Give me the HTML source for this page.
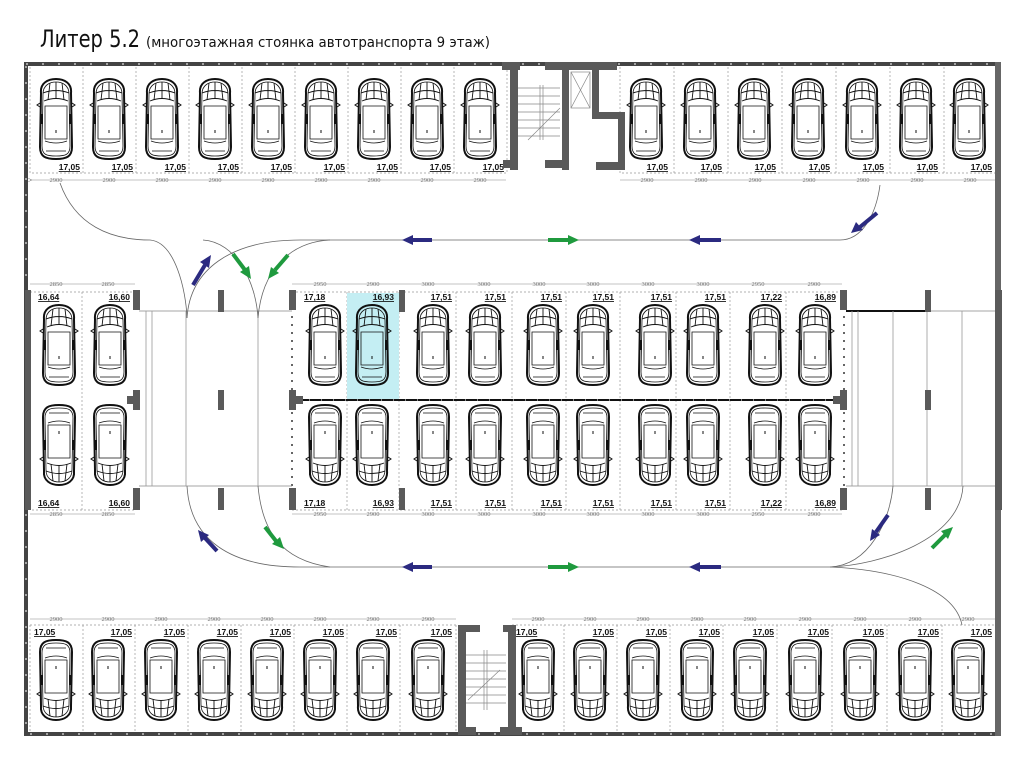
<!DOCTYPE html>
<html><head><meta charset="utf-8"><style>
html,body{margin:0;padding:0;background:#fff}
svg{display:block}
.lb{font-family:"Liberation Sans",sans-serif;font-size:8.5px;font-weight:bold;text-decoration:underline;fill:#111}
.dm{font-family:"Liberation Serif",serif;font-size:6.5px;fill:#777}
</style></head><body>
<svg width="1024" height="759" viewBox="0 0 1024 759" xmlns="http://www.w3.org/2000/svg">
<defs>
<g id="car" fill="none" stroke="#111">
<path d="M-15 14 C-16 4 -8 0 0 0 C8 0 16 4 15 14 L16 68 C16 78 10 80 0 80 C-10 80 -16 78 -16 68 Z" stroke-width="2"/>
<path d="M-13 15 C-13 6 -6 3 0 3 C6 3 13 6 13 15 L14 67 C14 76 9 77 0 77 C-9 77 -14 76 -14 67 Z" stroke-width="0.8"/>
<path d="M-12 22 Q0 17 12 22 M-6 4 L-8 21 M0 3 L0 19 M6 4 L8 21 M-13 14 Q0 9 13 14" stroke-width="0.9"/>
<path d="M-11 27 L11 27 L11 60 L-11 60 Z" stroke-width="0.8"/>
<path d="M-11 62 Q0 66 11 62 M-10 72 L10 72" stroke-width="0.8"/>
<path d="M-16 24 L-19 26 L-16 28 M16 24 L19 26 L16 28" stroke-width="1"/>
<rect x="-15" y="35" width="2" height="10" fill="#111" stroke="none"/>
<rect x="13" y="35" width="2" height="10" fill="#111" stroke="none"/>
<path d="M0 51 L0 54" stroke-width="1"/>
</g>
<g id="carD"><use href="#car" transform="translate(0,80) scale(1,-1)"/></g>
<marker id="ah" markerWidth="6" markerHeight="6" refX="3" refY="3" orient="auto"><path d="M0 0 L6 3 L0 6" fill="none" stroke="#777" stroke-width="0.8"/></marker>
</defs>

<text x="40" y="47" font-family="'DejaVu Sans','Liberation Sans',sans-serif" font-size="24" textLength="100" lengthAdjust="spacingAndGlyphs" fill="#111">Литер 5.2</text>
<text x="146" y="47" font-family="'DejaVu Sans','Liberation Sans',sans-serif" font-size="14" textLength="344" lengthAdjust="spacingAndGlyphs" fill="#111">(многоэтажная стоянка автотранспорта 9 этаж)</text>

<!-- frame -->
<rect x="26" y="64" width="972" height="670" fill="none" stroke="#444" stroke-width="4"/>
<rect x="26" y="64" width="972" height="670" fill="none" stroke="#fff" stroke-width="1" stroke-dasharray="2 14"/>
<rect x="995" y="62" width="6" height="674" fill="#666"/>

<!-- top row slots -->
<g fill="none" stroke="#999" stroke-width="0.7" stroke-dasharray="2 2">
<path d="M30 67 V173 H507 V67 M83 67V173 M136 67V173 M189 67V173 M242 67V173 M295 67V173 M348 67V173 M401 67V173 M454 67V173"/>
<path d="M620 67 V173 H995 M674 67V173 M728 67V173 M782 67V173 M836 67V173 M890 67V173 M944 67V173"/>
<path d="M30 625 V733 M30 625 H456 M83 625V733 M135 625V733 M188 625V733 M241 625V733 M294 625V733 M347 625V733 M400 625V733 M456 625V733"/>
<path d="M512 625 H995 M512 625V733 M564 625V733 M617 625V733 M670 625V733 M723 625V733 M777 625V733 M832 625V733 M887 625V733 M942 625V733"/>
<path d="M30 292 V510 H135 M30 292 H135 M82 292 V510"/>
<path d="M292 292 H842 M292 510 H842 M347 292V510 M399 292V510 M456 292V510 M512 292V510 M566 292V510 M620 292V510 M676 292V510 M730 292V510 M786 292V510"/>
</g>
<rect x="347" y="293" width="52" height="107" fill="#c4eef3"/>

<g>
<use href="#car" x="56" y="79"/><use href="#car" x="109" y="79"/><use href="#car" x="162" y="79"/><use href="#car" x="215" y="79"/><use href="#car" x="268" y="79"/><use href="#car" x="321" y="79"/><use href="#car" x="374" y="79"/><use href="#car" x="427" y="79"/><use href="#car" x="480" y="79"/>
<use href="#car" x="646" y="79"/><use href="#car" x="700" y="79"/><use href="#car" x="754" y="79"/><use href="#car" x="808" y="79"/><use href="#car" x="862" y="79"/><use href="#car" x="916" y="79"/><use href="#car" x="969" y="79"/>
<use href="#car" x="59" y="305"/><use href="#car" x="110" y="305"/>
<use href="#carD" x="59" y="405"/><use href="#carD" x="110" y="405"/>
<use href="#car" x="325" y="305"/><use href="#car" x="372" y="305"/><use href="#car" x="433" y="305"/><use href="#car" x="485" y="305"/><use href="#car" x="543" y="305"/><use href="#car" x="593" y="305"/><use href="#car" x="655" y="305"/><use href="#car" x="703" y="305"/><use href="#car" x="765" y="305"/><use href="#car" x="815" y="305"/>
<use href="#carD" x="325" y="405"/><use href="#carD" x="372" y="405"/><use href="#carD" x="433" y="405"/><use href="#carD" x="485" y="405"/><use href="#carD" x="543" y="405"/><use href="#carD" x="593" y="405"/><use href="#carD" x="655" y="405"/><use href="#carD" x="703" y="405"/><use href="#carD" x="765" y="405"/><use href="#carD" x="815" y="405"/>
<use href="#carD" x="56" y="640"/><use href="#carD" x="108" y="640"/><use href="#carD" x="161" y="640"/><use href="#carD" x="214" y="640"/><use href="#carD" x="267" y="640"/><use href="#carD" x="320" y="640"/><use href="#carD" x="373" y="640"/><use href="#carD" x="428" y="640"/>
<use href="#carD" x="538" y="640"/><use href="#carD" x="590" y="640"/><use href="#carD" x="643" y="640"/><use href="#carD" x="697" y="640"/><use href="#carD" x="750" y="640"/><use href="#carD" x="805" y="640"/><use href="#carD" x="860" y="640"/><use href="#carD" x="915" y="640"/><use href="#carD" x="968" y="640"/>
</g>

<!-- labels -->
<g class="lb" text-anchor="end">
<text x="80" y="170">17,05</text><text x="133" y="170">17,05</text><text x="186" y="170">17,05</text><text x="239" y="170">17,05</text><text x="292" y="170">17,05</text><text x="345" y="170">17,05</text><text x="398" y="170">17,05</text><text x="451" y="170">17,05</text><text x="504" y="170">17,05</text>
<text x="668" y="170">17,05</text><text x="722" y="170">17,05</text><text x="776" y="170">17,05</text><text x="830" y="170">17,05</text><text x="884" y="170">17,05</text><text x="938" y="170">17,05</text><text x="992" y="170">17,05</text>
<text x="130" y="300">16,60</text><text x="130" y="506">16,60</text>
<text x="394" y="300">16,93</text><text x="452" y="300">17,51</text><text x="506" y="300">17,51</text><text x="562" y="300">17,51</text><text x="614" y="300">17,51</text><text x="672" y="300">17,51</text><text x="726" y="300">17,51</text><text x="782" y="300">17,22</text><text x="836" y="300">16,89</text>
<text x="394" y="506">16,93</text><text x="452" y="506">17,51</text><text x="506" y="506">17,51</text><text x="562" y="506">17,51</text><text x="614" y="506">17,51</text><text x="672" y="506">17,51</text><text x="726" y="506">17,51</text><text x="782" y="506">17,22</text><text x="836" y="506">16,89</text>
<text x="132" y="635">17,05</text><text x="185" y="635">17,05</text><text x="238" y="635">17,05</text><text x="291" y="635">17,05</text><text x="344" y="635">17,05</text><text x="397" y="635">17,05</text><text x="452" y="635">17,05</text>
<text x="614" y="635">17,05</text><text x="667" y="635">17,05</text><text x="720" y="635">17,05</text><text x="774" y="635">17,05</text><text x="829" y="635">17,05</text><text x="884" y="635">17,05</text><text x="939" y="635">17,05</text><text x="992" y="635">17,05</text>
</g>
<g class="lb">
<text x="34" y="635">17,05</text><text x="516" y="635">17,05</text>
<text x="38" y="300">16,64</text><text x="38" y="506">16,64</text>
<text x="304" y="300">17,18</text><text x="304" y="506">17,18</text>
</g>

<!-- dimension lines -->
<g stroke="#888" stroke-width="0.6" marker-start="url(#ah)">
<path d="M30 180 H506 M620 180 H995 M30 284 H135 M30 514 H135 M292 284 H842 M292 514 H842 M30 619 H456 M512 619 H995"/>
</g>
<g class="dm" text-anchor="middle">
<text x="56" y="182">2900</text><text x="109" y="182">2900</text><text x="162" y="182">2900</text><text x="215" y="182">2900</text><text x="268" y="182">2900</text><text x="321" y="182">2900</text><text x="374" y="182">2900</text><text x="427" y="182">2900</text><text x="480" y="182">2900</text>
<text x="647" y="182">2900</text><text x="701" y="182">2900</text><text x="755" y="182">2900</text><text x="809" y="182">2900</text><text x="863" y="182">2900</text><text x="917" y="182">2900</text><text x="970" y="182">2900</text>
<text x="56" y="286">2850</text><text x="108" y="286">2850</text><text x="56" y="516">2850</text><text x="108" y="516">2850</text>
<text x="320" y="286">2950</text><text x="373" y="286">2900</text><text x="428" y="286">3000</text><text x="484" y="286">3000</text><text x="539" y="286">3000</text><text x="593" y="286">3000</text><text x="648" y="286">3000</text><text x="703" y="286">3000</text><text x="758" y="286">2950</text><text x="814" y="286">2900</text>
<text x="320" y="516">2950</text><text x="373" y="516">2900</text><text x="428" y="516">3000</text><text x="484" y="516">3000</text><text x="539" y="516">3000</text><text x="593" y="516">3000</text><text x="648" y="516">3000</text><text x="703" y="516">3000</text><text x="758" y="516">2950</text><text x="814" y="516">2900</text>
<text x="56" y="621">2900</text><text x="108" y="621">2900</text><text x="161" y="621">2900</text><text x="214" y="621">2900</text><text x="267" y="621">2900</text><text x="320" y="621">2900</text><text x="373" y="621">2900</text><text x="428" y="621">2900</text>
<text x="538" y="621">2900</text><text x="590" y="621">2900</text><text x="643" y="621">2900</text><text x="697" y="621">2900</text><text x="750" y="621">2900</text><text x="805" y="621">2900</text><text x="860" y="621">2900</text><text x="915" y="621">2900</text><text x="968" y="621">2900</text>
</g>

<!-- center dividing line and walls -->
<path d="M297 400 H842" stroke="#111" stroke-width="2"/>
<path d="M297 400 H842" stroke="#fff" stroke-width="1" stroke-dasharray="1 11"/>
<path d="M292 300 V500 M844 300 V500" stroke="#333" stroke-width="1.5" stroke-dasharray="2 6"/>
<path d="M139 311 H292 M139 486 H292 M846 311 H996 M846 486 H996 M846 311 H996" stroke="#888" stroke-width="0.8"/>
<path d="M846 311 H926" stroke="#111" stroke-width="2"/>
<path d="M146 311 V486 M152 311 V486 M186 311 V486 M258 311 V486 M852 311 V486 M858 311 V486 M893 311 V486 M927 311 V486 M962 311 V486" stroke="#999" stroke-width="0.8"/>
<g fill="#5a5a5a">
<rect x="25" y="290" width="6" height="220"/>
<rect x="133" y="290" width="7" height="20"/><rect x="127" y="396" width="13" height="8"/><rect x="133" y="390" width="7" height="20"/><rect x="133" y="488" width="7" height="22"/>
<rect x="218" y="290" width="6" height="22"/><rect x="218" y="390" width="6" height="20"/><rect x="218" y="488" width="6" height="22"/>
<rect x="289" y="290" width="7" height="20"/><rect x="289" y="390" width="7" height="20"/><rect x="289" y="396" width="14" height="8"/><rect x="289" y="488" width="7" height="22"/>
<rect x="399" y="290" width="6" height="22"/><rect x="399" y="488" width="6" height="22"/>
<rect x="840" y="290" width="7" height="20"/><rect x="840" y="390" width="7" height="20"/><rect x="833" y="396" width="14" height="8"/><rect x="840" y="488" width="7" height="22"/>
<rect x="925" y="290" width="6" height="22"/><rect x="925" y="390" width="6" height="20"/><rect x="925" y="488" width="6" height="22"/>
<rect x="995" y="290" width="7" height="220"/>
<!-- top stairs -->
<rect x="502" y="62" width="18" height="8"/><rect x="510" y="62" width="8" height="108"/><rect x="503" y="160" width="15" height="8"/>
<rect x="545" y="62" width="72" height="8"/><rect x="562" y="62" width="7" height="108"/><rect x="545" y="160" width="22" height="8"/>
<rect x="592" y="62" width="7" height="56"/><rect x="592" y="112" width="33" height="7"/><rect x="618" y="112" width="7" height="58"/><rect x="596" y="162" width="29" height="8"/>
<!-- bottom stairs -->
<rect x="458" y="625" width="22" height="7"/><rect x="458" y="625" width="8" height="110"/><rect x="458" y="727" width="18" height="8"/>
<rect x="503" y="625" width="13" height="7"/><rect x="508" y="625" width="8" height="110"/><rect x="500" y="727" width="22" height="8"/>
</g>
<g stroke="#888" stroke-width="0.7" fill="none">
<path d="M518 88 H560 M518 96 H560 M518 104 H560 M518 112 H560 M518 120 H560 M518 128 H560 M518 136 H560 M540 85 V140 M543 85 V140 M528 140 L560 108"/>
<rect x="571" y="72" width="19" height="36"/><path d="M571 72 L590 108 M590 72 L571 108"/>
<path d="M466 655 H506 M466 663 H506 M466 671 H506 M466 679 H506 M466 687 H506 M466 695 H506 M466 703 H506 M484 650 V710 M487 650 V710 M468 700 L500 670"/>
</g>

<!-- lanes -->
<g fill="none" stroke="#666" stroke-width="0.8">
<path d="M60 183 C75 225 110 240 150 240 C175 242 186 290 187 318"/>
<path d="M187 318 C190 270 230 240 300 240 L840 240 C862 240 876 215 880 185"/>
<path d="M203 240 C236 242 256 282 258 318"/>
<path d="M258 318 C262 270 290 242 330 240"/>
<path d="M187 486 C190 540 230 567 300 567 L830 567 C870 565 890 520 893 486"/>
<path d="M258 486 C262 530 280 560 330 567"/>
<path d="M830 567 C880 565 960 540 963 486"/>
<path d="M830 567 C900 570 955 590 962 625"/>
</g>

<!-- arrows -->
<g stroke-width="4" stroke-linecap="butt">
<g stroke="#2b2a80" fill="#2b2a80">
<path d="M432 240 H412"/><path d="M402 240 L413 235 L413 245 Z" stroke="none"/>
<path d="M721 240 H699"/><path d="M689 240 L700 235 L700 245 Z" stroke="none"/>
<path d="M432 567 H412"/><path d="M402 567 L413 562 L413 572 Z" stroke="none"/>
<path d="M721 567 H699"/><path d="M689 567 L700 562 L700 572 Z" stroke="none"/>
</g>
<g stroke="#1f9a3e" fill="#1f9a3e">
<path d="M548 240 H568"/><path d="M579 240 L568 235 L568 245 Z" stroke="none"/>
<path d="M548 567 H568"/><path d="M579 567 L568 562 L568 572 Z" stroke="none"/>
</g>
<path d="M193 285 L205 265" stroke="#2b2a80"/><path d="M211 255 L200 262 L209 268 Z" fill="#2b2a80"/>
<path d="M233 254 L245 270" stroke="#1f9a3e"/><path d="M251 279 L240 272 L249 266 Z" fill="#1f9a3e"/>
<path d="M288 255 L275 270" stroke="#1f9a3e"/><path d="M268 279 L271 267 L279 273 Z" fill="#1f9a3e"/>
<path d="M877 213 L860 227" stroke="#2b2a80"/><path d="M851 233 L856 222 L863 230 Z" fill="#2b2a80"/>
<path d="M217 551 L205 538" stroke="#2b2a80"/><path d="M198 530 L201 542 L209 535 Z" fill="#2b2a80"/>
<path d="M265 527 L276 541" stroke="#1f9a3e"/><path d="M284 549 L272 544 L280 537 Z" fill="#1f9a3e"/>
<path d="M888 515 L876 532" stroke="#2b2a80"/><path d="M870 541 L872 529 L880 535 Z" fill="#2b2a80"/>
<path d="M932 548 L945 535" stroke="#1f9a3e"/><path d="M953 527 L941 531 L948 539 Z" fill="#1f9a3e"/>
</g>
</svg>
</body></html>
